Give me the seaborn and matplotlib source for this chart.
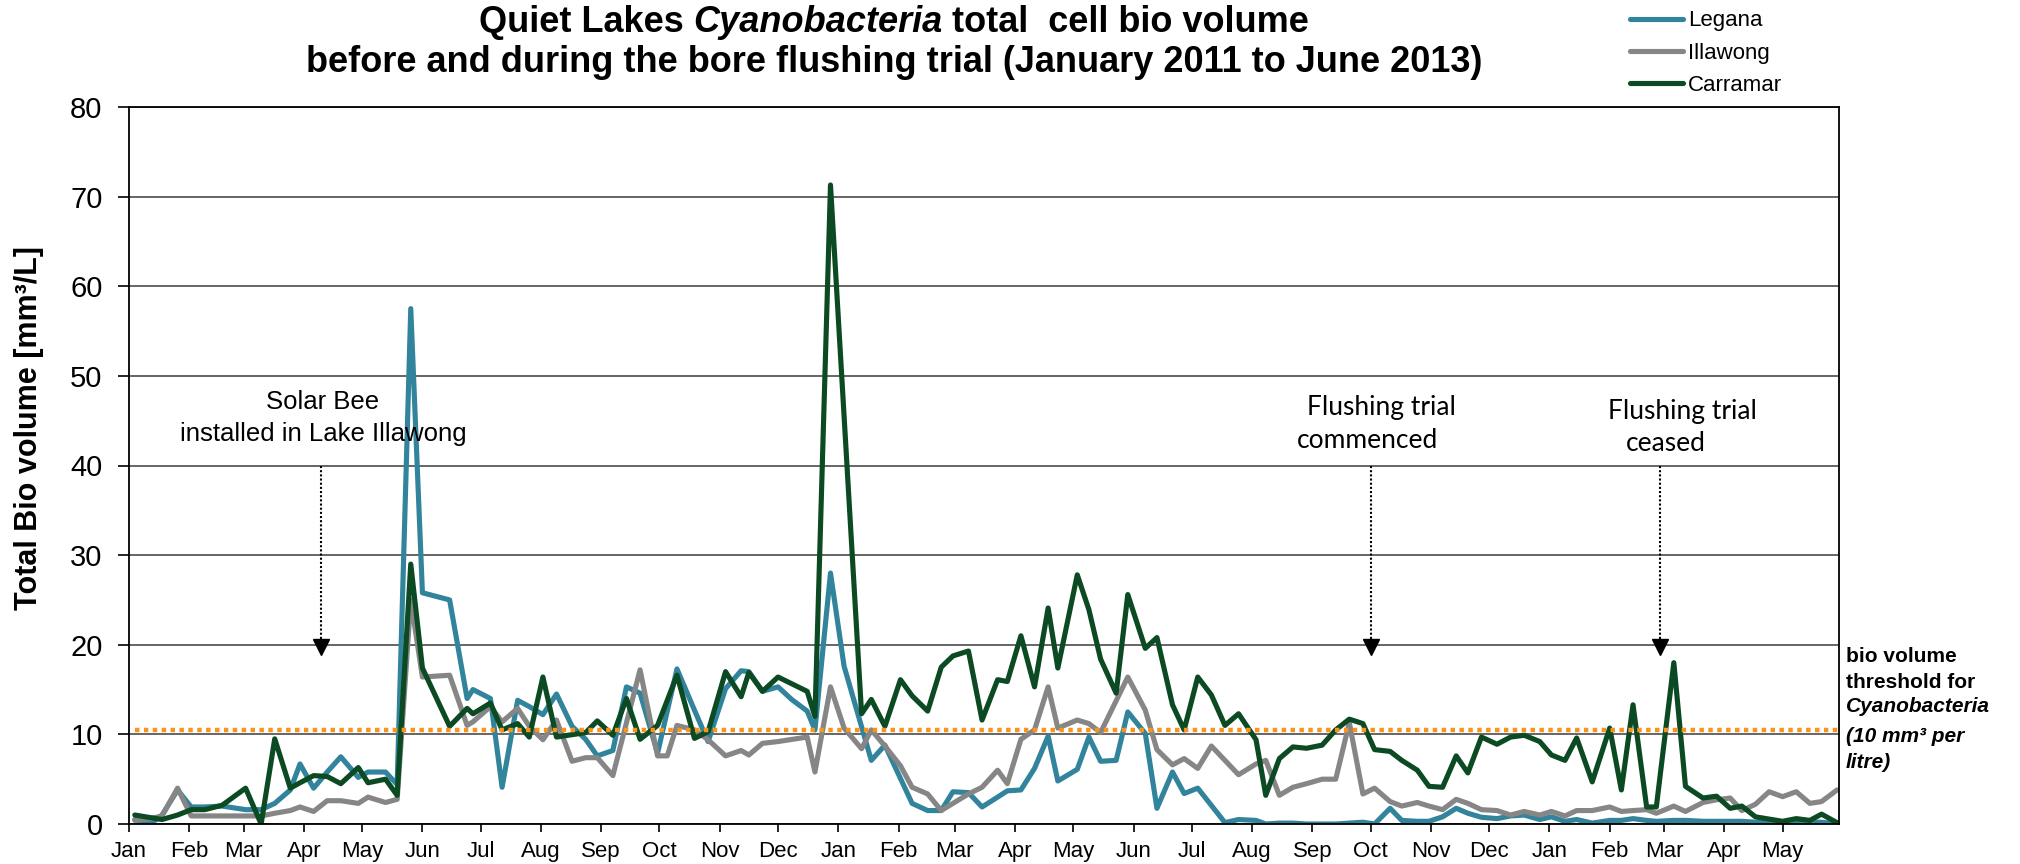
import matplotlib
matplotlib.use('Agg')
import matplotlib.pyplot as plt
import matplotlib.dates as mdates
from matplotlib.lines import Line2D
from matplotlib.offsetbox import TextArea, HPacker, AnchoredOffsetbox
import seaborn as sns
import pandas as pd
import numpy as np

nan = np.nan

# 采样日期（每周左右一次）
sample_dates = [
    '2011-01-04', '2011-01-12', '2011-01-18', '2011-01-26', '2011-02-02', '2011-02-09', '2011-02-18',
    '2011-03-02', '2011-03-10', '2011-03-17', '2011-03-25', '2011-03-30', '2011-04-06', '2011-04-13',
    '2011-04-20', '2011-04-29', '2011-05-04', '2011-05-13', '2011-05-19', '2011-05-26',
    '2011-06-01', '2011-06-15', '2011-06-24', '2011-06-27', '2011-07-06', '2011-07-12', '2011-07-20',
    '2011-07-26', '2011-08-02', '2011-08-09', '2011-08-17', '2011-08-24', '2011-08-30', '2011-09-07',
    '2011-09-14', '2011-09-21', '2011-09-30', '2011-10-05', '2011-10-10', '2011-10-19', '2011-10-26',
    '2011-11-04', '2011-11-12', '2011-11-16', '2011-11-23', '2011-12-01', '2011-12-08', '2011-12-16',
    '2011-12-20', '2011-12-28', '2012-01-04', '2012-01-13', '2012-01-18', '2012-01-25', '2012-02-02',
    '2012-02-08', '2012-02-16', '2012-02-23', '2012-02-29', '2012-03-08',
    '2012-03-15', '2012-03-23', '2012-03-28', '2012-04-04', '2012-04-11', '2012-04-18', '2012-04-23',
    '2012-05-03', '2012-05-09', '2012-05-15', '2012-05-23', '2012-05-29', '2012-06-07', '2012-06-13',
    '2012-06-21', '2012-06-27', '2012-07-04', '2012-07-11', '2012-07-18', '2012-07-25', '2012-08-03',
    '2012-08-08',
    '2012-08-15', '2012-08-22', '2012-08-29', '2012-09-06', '2012-09-13', '2012-09-20', '2012-09-27',
    '2012-10-03', '2012-10-11', '2012-10-17', '2012-10-25', '2012-10-31', '2012-11-07', '2012-11-14',
    '2012-11-20', '2012-11-27', '2012-12-05', '2012-12-12', '2012-12-19', '2012-12-27', '2013-01-02',
    '2013-01-09', '2013-01-15', '2013-01-23', '2013-02-01', '2013-02-07', '2013-02-13', '2013-02-20',
    '2013-02-25', '2013-03-06', '2013-03-12', '2013-03-21', '2013-03-28', '2013-04-04', '2013-04-10',
    '2013-04-17', '2013-04-24', '2013-05-01', '2013-05-08', '2013-05-15', '2013-05-21', '2013-05-29',
]

legana = [
    0.5, 0.0, 1.0, 3.8, 1.9, 1.9, 2.0, 1.6, 1.6, 2.3, 3.8, 6.7, 4.0, 5.8, 7.5, 5.2, 5.8, 5.8, 4.4, 57.5,
    25.8, 25.0, 14.0, 15.0, 14.0, 4.1, 13.8, 13.1, 12.2, 14.5, 10.9, 9.45, 7.6, 8.2, 15.3, 14.6, 7.9, nan,
    17.3, 12.7, 9.2, 15.1, 17.1, 17.0, 14.8, 15.3, 13.9, 12.6, 10.5, 28.0, 17.6, nan, 7.1, 8.8, nan, 2.3,
    1.5, 1.5, 3.6, 3.5,
    1.9, 3.0, 3.7, 3.8, 6.2, 9.8, 4.8, 6.1, 9.7, 7.0, 7.1, 12.5, 10.1, 1.75, 5.8, 3.4, 4.0, nan, 0.15,
    0.5, 0.4, 0.0,
    0.1, 0.1, 0.0, 0.0, 0.0, 0.1, 0.2, 0.0, 1.75, 0.4, 0.3, 0.3, 0.8, 1.75, 1.2, 0.75, 0.6, 0.9, 1.0,
    0.5, 0.8, 0.3, 0.5, 0.1, 0.4, 0.4, 0.6, 0.4, 0.3, 0.4, 0.4, 0.3, 0.3, 0.3, 0.3, 0.2, 0.3, 0.2, 0.2,
    0.2, 0.2, 0.0,
]

illawong = [
    0.4, 0.6, 0.9, 4.0, 0.9, 0.9, 0.9, 0.9, 0.9, 1.2, 1.5, 1.9, 1.4, 2.6, 2.6, 2.3, 3.0, 2.4, 2.75, 25.0,
    16.4, 16.6, 11.0, 11.4, 13.1, 11.4, 12.9, 10.9, 9.4, 11.6, 7.0, 7.4, 7.4, 5.4, nan, 17.2, 7.6, 7.6,
    11.0, 10.5, 9.4, 7.6, 8.2, 7.7, 9.0, 9.2, nan, 9.7, 5.8, 15.3, 10.7, 8.4, 10.5, 8.7, 6.5, 4.1,
    3.35, 1.5, 2.3, 3.35,
    4.1, 6.0, 4.5, 9.45, 10.5, 15.3, 10.7, 11.6, 11.2, 10.2, nan, 16.4, 12.7, 8.3, 6.6, 7.3, 6.2, 8.7,
    7.1, 5.5, 6.7, 7.1,
    3.2, 4.1, 4.5, 5.0, 5.0, 11.3, 3.35, 4.0, 2.5, 2.0, 2.4, 2.0, 1.6, 2.75, 2.3, 1.6, 1.5, 1.0, 1.4,
    1.0, 1.4, 0.9, 1.5, 1.5, 1.9, 1.4, 1.5, 1.6, 1.2, 2.0, 1.4, 2.4, 2.7, 2.9, 1.5, 2.2, 3.6, 3.05, 3.6,
    2.3, 2.5, 3.8,
]

carramar = [
    1.0, nan, 0.5, 1.0, 1.6, 1.6, 2.1, 4.0, 0.0, 9.5, 4.0, 4.6, 5.4, 5.3, 4.5, 6.3, 4.6, 5.0, 3.2, 29.0,
    17.4, 10.9, 12.9, 12.3, 13.5, 10.5, 11.2, 9.7, 16.4, 9.7, nan, 10.2, 11.5, 9.9, 14.0, 9.45, 11.0, nan,
    16.6, 9.55, 10.3, 17.0, 14.2, 16.9, 14.8, 16.4, nan, 14.8, 12.0, 71.3, nan, 12.3, 13.9, 10.9, 16.1,
    14.3, 12.6, 17.5, 18.75, 19.3,
    11.6, 16.1, 15.9, 21.0, 15.3, 24.1, 17.4, 27.8, 23.9, 18.4, 14.6, 25.6, 19.6, 20.8, 13.3, 10.5, 16.4,
    14.4, 11.0, 12.3, 9.4, 3.2,
    7.3, 8.6, 8.45, 8.8, 10.5, 11.7, 11.2, 8.3, 8.1, 7.1, 6.0, 4.2, 4.1, 7.6, 5.7, 9.7, 8.9, 9.7, 9.9,
    9.2, 7.7, 7.1, 9.6, 4.7, 10.7, 3.8, 13.3, 1.9, 1.9, 18.0, 4.2, 2.9, 3.1, 1.75, 2.0, 0.8, nan, 0.3,
    0.6, 0.4, 1.1, 0.15,
]

sites = ['Legana', 'Illawong', 'Carramar']
site_colors = ['#31849B', '#868686', '#0B4A22']
threshold = 10.5

# 事件标注
event_dates = ['2011-04-10', '2012-10-01', '2013-02-27']

# 长表
df = pd.DataFrame({'date': pd.to_datetime(sample_dates),
                   'Legana': legana, 'Illawong': illawong, 'Carramar': carramar})
df = df.melt(id_vars='date', var_name='site', value_name='volume').dropna()

sns.set_style('white')
plt.rcParams['font.family'] = ['Liberation Sans', 'DejaVu Sans']
plt.rcParams['text.color'] = 'black'
plt.rcParams['xtick.color'] = 'black'
plt.rcParams['ytick.color'] = 'black'

W, H = 2020, 864
fig = plt.figure(figsize=(W / 100, H / 100), dpi=100)
ax = fig.add_axes([129 / W, 1 - 824 / H, (1839 - 129) / W, (824 - 107) / H])


def px(x, y):
    return x / W, 1 - y / H


ax.yaxis.grid(True, color='#3c3c3c', lw=1.1)
ax.set_axisbelow(True)

sns.lineplot(data=df, x='date', y='volume', hue='site', hue_order=sites,
             palette=dict(zip(sites, site_colors)), linewidth=3.7,
             estimator=None, legend=False, ax=ax)

# 阈值线
x0 = pd.Timestamp(sample_dates[0])
x1 = pd.Timestamp('2013-05-30')
ax.plot([x0, x1], [threshold, threshold], color='#F7941D', lw=3.2,
        dashes=(1, 1), zorder=5)

# 箭头
for d in pd.to_datetime(event_dates):
    ax.plot([d, d], [40, 20.6], color='black', lw=1.5, ls=(0, (1, 1)), zorder=6)
    ax.plot([d], [19.7], marker='v', ms=11, color='black', zorder=6)

ax.set_xlim(pd.Timestamp('2011-01-01'), x1)
ax.set_ylim(0, 80)
ax.set_yticks(range(0, 81, 10))
ax.xaxis.set_major_locator(mdates.MonthLocator())
ax.xaxis.set_major_formatter(mdates.DateFormatter('%b'))
ax.tick_params(axis='x', labelsize=16, labelcolor='black', length=6, width=1.2, pad=6, bottom=True)
ax.tick_params(axis='y', labelsize=21, labelcolor='black', length=8, width=1.2, pad=11, left=True)
ax.set_xlabel('')
ax.set_ylabel('')
for s in ax.spines.values():
    s.set_color('black')
    s.set_linewidth(1.3)

# 标题
parts = [('Quiet Lakes', 'normal'), ('Cyanobacteria', 'italic'), ('total  cell bio volume', 'normal')]
boxes = [TextArea(s, textprops=dict(fontsize=26, fontweight='bold', fontstyle=st, color='black'))
         for s, st in parts]
pack = HPacker(children=boxes, align='baseline', pad=0, sep=7)
fig.add_artist(AnchoredOffsetbox(loc='center', child=pack, pad=0, borderpad=0, frameon=False,
                                 bbox_to_anchor=px(894, 23), bbox_transform=fig.transFigure))
fig.text(*px(894, 63), 'before and during the bore flushing trial (January 2011 to June 2013)',
         fontsize=26, fontweight='bold', ha='center', va='center')

fig.text(*px(29, 428), 'Total Bio volume [mm³/L]', rotation=90, fontsize=22,
         fontweight='bold', ha='center', va='center')

# 注释文字
fig.text(*px(323, 402), 'Solar Bee', fontsize=18.5, ha='center', va='center')
fig.text(*px(323, 434), 'installed in Lake Illawong', fontsize=18.5, ha='center', va='center')
fig.text(*px(1381, 407), 'Flushing trial', fontsize=19, family='Lato', ha='center', va='center')
fig.text(*px(1367, 440), 'commenced', fontsize=19, family='Lato', ha='center', va='center')
fig.text(*px(1682, 411), 'Flushing trial', fontsize=19, family='Lato', ha='center', va='center')
fig.text(*px(1666, 444), 'ceased', fontsize=19, family='Lato', ha='center', va='center')

side_lines = [('bio volume', 'normal', 657), ('threshold for', 'normal', 682),
              ('Cyanobacteria', 'italic', 707), ('(10 mm³ per', 'italic', 737),
              ('litre)', 'italic', 762)]
for s, st, y in side_lines:
    fig.text(*px(1846, y), s, fontsize=15, fontweight='bold', fontstyle=st, ha='left', va='center')

# 图例
handles = [Line2D([], [], color=c, lw=3.7) for c in site_colors]
fig.legend(handles, sites, loc='center left', bbox_to_anchor=px(1630, 53), frameon=False,
           fontsize=16, handlelength=2.4, handletextpad=0.2, labelspacing=0.5,
           borderpad=0, borderaxespad=0)

fig.savefig('out.png', dpi=100)
